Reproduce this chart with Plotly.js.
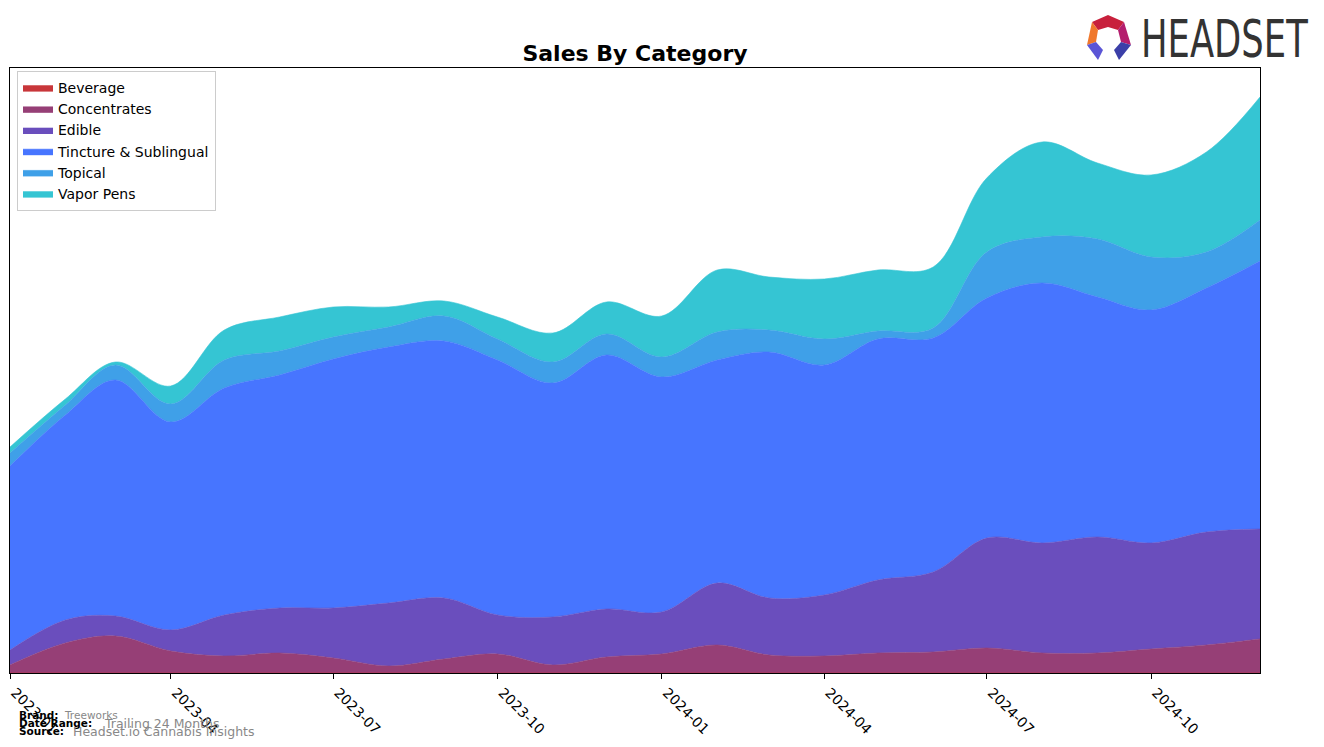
<!DOCTYPE html>
<html>
<head>
<meta charset="utf-8">
<script src="https://cdn.plot.ly/plotly-3.0.1.min.js"></script>
<style>
  html, body { margin: 0; padding: 0; background: #ffffff; }
  #wrap { position: relative; width: 1324px; height: 747px; }
  #chart { width: 1324px; height: 747px; }
  #logotext { position: absolute; left: 1141px; top: 13px; font-family: "DejaVu Sans", sans-serif;
    font-size: 52px; line-height: 52px; color: #333333; transform: scaleX(0.68);
    transform-origin: 0 0; white-space: nowrap; letter-spacing: 0; }
</style>
</head>
<body>
<div id="wrap">
  <div id="chart"></div>
  <div id="logotext">HEADSET</div>
</div>
<script>
// ---- data ----
const months = ["2023-01-01","2023-02-01","2023-03-01","2023-04-01","2023-05-01","2023-06-01",
  "2023-07-01","2023-08-01","2023-09-01","2023-10-01","2023-11-01","2023-12-01",
  "2024-01-01","2024-02-01","2024-03-01","2024-04-01","2024-05-01","2024-06-01",
  "2024-07-01","2024-08-01","2024-09-01","2024-10-01","2024-11-01","2024-12-01"];
const categories = ["Beverage","Concentrates","Edible","Tincture & Sublingual","Topical","Vapor Pens"];
const beverage     = [0,0,0,0,0,0,0,0,0,0,0,0,0,0,0,0,0,0,0,0,0,0,0,0];
const concentrates = [8,30,37,22,17,20,15,7,14,19,8,16,19,28,18,17,20,21,25,20,20,24,28,34];
const edible       = [15,23,20,21,41,45,50,63,61,39,48,48,42,62,57,61,73,80,110,110,116,106,113,110];
const tincture     = [184,205,236,208,227,233,249,256,257,255,234,254,235,223,246,230,241,234,240,260,240,233,244,268];
const topical      = [13,10,15,18,28,24,22,20,25,21,21,21,20,28,22,26,8,10,46,46,58,53,36,41];
const vaporPens    = [6,6,3,18,30,34,30,20,15,22,29,32,41,62,53,60,61,61,74,95,76,82,100,123];
const tickVals   = ["2023-01-01","2023-04-01","2023-07-01","2023-10-01","2024-01-01","2024-04-01","2024-07-01","2024-10-01"];
const tickLabels = ["2023-01","2023-04","2023-07","2023-10","2024-01","2024-04","2024-07","2024-10"];

const seriesValues = [beverage, concentrates, edible, tincture, topical, vaporPens];
const colors = ["#C8363A","#963F76","#6A4EBD","#4775FF","#3FA0E8","#35C5D3"];

// ---- geometry helpers (pixel -> paper) ----
const L = 10, R = 1260, T = 68, B = 673;
const px = x => (x - L) / (R - L);
const py = y => (B - y) / (B - T);

const traces = categories.map((name, i) => ({
  type: "scatter",
  mode: "lines",
  name: name,
  x: months,
  y: seriesValues[i],
  stackgroup: "one",
  line: { shape: "spline", smoothing: 1, width: 0.6, color: colors[i] },
  fillcolor: colors[i],
  hoverinfo: "x+y+name"
}));

function poly(points, color) {
  const d = points.map((p, k) => (k ? "L" : "M") + px(p[0]) + "," + py(p[1])).join(" ") + " Z";
  return { type: "path", xref: "paper", yref: "paper", path: d, fillcolor: color, line: { width: 0 }, layer: "above" };
}

const logoShapes = [
  poly([[1092,22],[1108,15],[1124,22],[1118,30],[1108,27],[1098,30]], "#C8203C"),
  poly([[1092,22],[1098,30],[1096,42],[1087,45]], "#F0782C"),
  poly([[1124,22],[1131,45],[1121,42],[1118,30]], "#B41E6E"),
  poly([[1087,45],[1096,42],[1103,50],[1098,60]], "#5B55D6"),
  poly([[1131,45],[1121,42],[1114,50],[1119,60]], "#3B3FA8")
];

const annotations = [
  { xref: "paper", yref: "paper", x: px(17), y: py(715), xanchor: "left", yanchor: "middle",
    text: "<b>Brand:</b>", showarrow: false, font: { family: "DejaVu Sans", size: 10.5, color: "#000" } },
  { xref: "paper", yref: "paper", x: px(62), y: py(715), xanchor: "left", yanchor: "middle",
    text: "Treeworks", showarrow: false, font: { family: "DejaVu Sans", size: 10.5, color: "#888" } },
  { xref: "paper", yref: "paper", x: px(17), y: py(723), xanchor: "left", yanchor: "middle",
    text: "<b>Date Range:</b>", showarrow: false, font: { family: "DejaVu Sans", size: 10.5, color: "#000" } },
  { xref: "paper", yref: "paper", x: px(102), y: py(723), xanchor: "left", yanchor: "middle",
    text: "Trailing 24 Months", showarrow: false, font: { family: "DejaVu Sans", size: 12.5, color: "#888" } },
  { xref: "paper", yref: "paper", x: px(17), y: py(731), xanchor: "left", yanchor: "middle",
    text: "<b>Source:</b>", showarrow: false, font: { family: "DejaVu Sans", size: 10.5, color: "#000" } },
  { xref: "paper", yref: "paper", x: px(71), y: py(731), xanchor: "left", yanchor: "middle",
    text: "Headset.io Cannabis Insights", showarrow: false, font: { family: "DejaVu Sans", size: 12.5, color: "#888" } }
];

const layout = {
  width: 1324, height: 747,
  margin: { l: L, r: 1324 - R, t: T, b: 747 - B, pad: 0 },
  paper_bgcolor: "#ffffff", plot_bgcolor: "#ffffff",
  font: { family: "DejaVu Sans", size: 13, color: "#000" },
  title: { text: "<b>Sales By Category</b>", x: 0.5, xref: "paper", xanchor: "center",
           y: 1 - 53 / 747, yanchor: "middle", yref: "container",
           font: { family: "DejaVu Sans", size: 22, color: "#000" } },
  showlegend: true,
  legend: { x: px(17), y: py(71), xanchor: "left", yanchor: "top", traceorder: "normal",
            bgcolor: "#ffffff", bordercolor: "#cccccc", borderwidth: 1,
            font: { family: "DejaVu Sans", size: 14, color: "#000" } },
  xaxis: {
    type: "date", range: ["2023-01-01", "2024-12-01"],
    tickvals: tickVals, ticktext: tickLabels, tickangle: 45, ticklabelshift: 5,
    ticks: "outside", ticklen: 5, tickcolor: "#000", tickwidth: 1,
    showline: true, linecolor: "#000", linewidth: 1, mirror: true,
    showgrid: false, zeroline: false,
    tickfont: { family: "DejaVu Sans", size: 14, color: "#000" }
  },
  yaxis: {
    range: [0, 605], showticklabels: false, ticks: "",
    showline: true, linecolor: "#000", linewidth: 1, mirror: true,
    showgrid: false, zeroline: false
  },
  shapes: logoShapes,
  annotations: annotations
};

Plotly.newPlot("chart", traces, layout, { displayModeBar: false, staticPlot: true });
</script>
</body>
</html>
